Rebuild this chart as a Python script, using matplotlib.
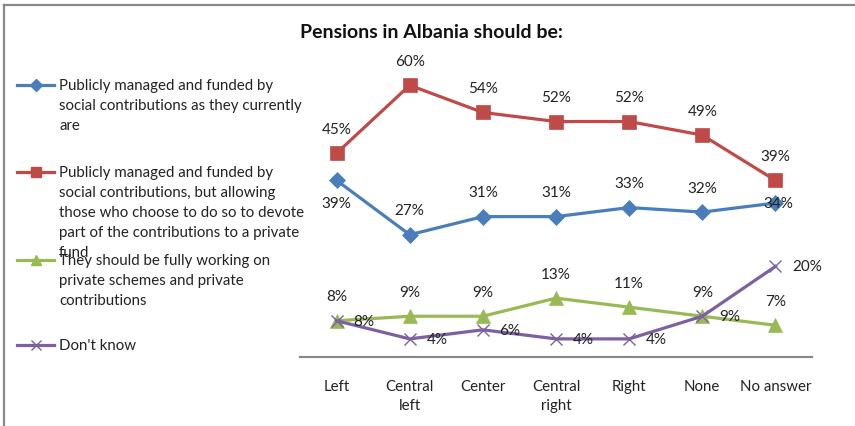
import matplotlib.pyplot as plt
from matplotlib.lines import Line2D

plt.rcParams['font.family'] = ['Lato', 'DejaVu Sans']

categories = ['Left', 'Central\nleft', 'Center', 'Central\nright', 'Right', 'None', 'No answer']
current = [39, 27, 31, 31, 33, 32, 34]
mixed = [45, 60, 54, 52, 52, 49, 39]
private = [8, 9, 9, 13, 11, 9, 7]
dont_know = [8, 4, 6, 4, 4, 9, 20]

legend_labels = [
    'Publicly managed and funded by\nsocial contributions as they currently\nare',
    'Publicly managed and funded by\nsocial contributions, but allowing\nthose who choose to do so to devote\npart of the contributions to a private\nfund',
    'They should be fully working on\nprivate schemes and private\ncontributions',
    "Don't know",
]

W, H = 855, 427
fig = plt.figure(figsize=(W / 100, H / 100), dpi=100)

def fx(px):
    return px / W

def fy(py):
    return 1 - py / H

# chart border (only top and left edges show)
fig.add_artist(Line2D([fx(3.5), fx(3.5)], [fy(5.5), 0], color='#888888', lw=1.6))
fig.add_artist(Line2D([fx(3.5), 1], [fy(5.5), fy(5.5)], color='#888888', lw=1.6))

ax = fig.add_axes([fx(300), fy(358), fx(812) - fx(300), fy(41) - fy(358)])
x = list(range(len(categories)))

series = [
    (current, '#4A7EBB', 'D', 8.5),
    (mixed, '#BE4B48', 's', 9.5),
    (private, '#98B954', '^', 9.5),
    (dont_know, '#7D60A0', 'x', 9),
]

for vals, col, mk, ms in series:
    ax.plot(x, vals, color=col, lw=2.3, marker=mk, markersize=ms,
            markeredgewidth=1.0 if mk == 'x' else 0.5, markeredgecolor=col,
            solid_joinstyle='round', clip_on=False)

up = (0, 17.5)
down = (0, -16)
right = (12, 0)

def label(vals, offsets):
    for i, v in enumerate(vals):
        dx, dy = offsets[i]
        if dx > 5:
            ha = 'left'
        else:
            ha = 'center'
        ax.annotate(f'{v}%', (i, v), xytext=(dx, dy), textcoords='offset points',
                    ha=ha, va='center', fontsize=11, color='#222222')

label(mixed, [up] * 7)
label(current, [down, up, up, up, up, up, (2, 0)])
label(private, [up] * 7)
label(dont_know, [right] * 7)

ax.set_xlim(-0.5, len(categories) - 0.5)
ax.set_ylim(0, 70)
ax.set_xticks(x)
ax.set_xticklabels(categories, fontsize=10.8, color='#222222', linespacing=1.45)
ax.tick_params(axis='x', length=0, pad=16)
ax.set_yticks([])
for side in ['top', 'right', 'left']:
    ax.spines[side].set_visible(False)
ax.spines['bottom'].set_color('#868686')
ax.spines['bottom'].set_linewidth(1.5)
ax.patch.set_visible(False)

fig.text(fx(431), fy(33), 'Pensions in Albania should be:', ha='center', va='center',
         fontsize=14, fontweight='bold', color='#111111')

# legend drawn by hand so the entries keep their fixed spacing
legend_y = [86, 173, 261, 346]
for (vals, col, mk, ms), lab, ly in zip(series, legend_labels, legend_y):
    fig.add_artist(Line2D([fx(17), fx(54)], [fy(ly), fy(ly)], color=col, lw=2.3))
    fig.add_artist(Line2D([fx(35.5)], [fy(ly)], color=col, marker=mk,
                          markersize=ms * 0.75, markeredgecolor=col, lw=0))
    fig.text(fx(59), fy(ly - 7), lab, ha='left', va='top', fontsize=10.8,
             color='#222222', linespacing=1.55)

fig.savefig('out.png', dpi=100)
